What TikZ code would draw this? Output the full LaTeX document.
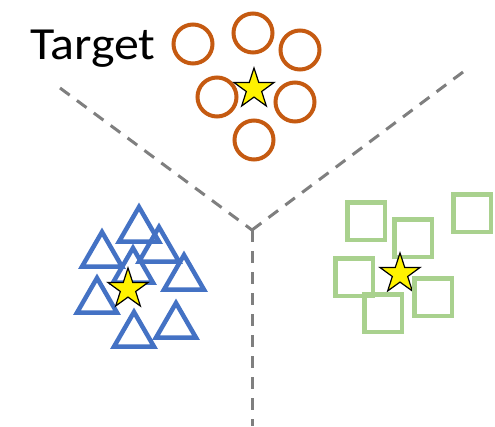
\documentclass[tikz,border=0pt]{standalone}
\usepackage{fontspec}
\setmainfont{Carlito}
\newfontfamily\labelfont[FakeStretch=1.085]{Carlito}
\usepackage{tikz}
\usetikzlibrary{shapes.geometric}

\definecolor{ringorange}{HTML}{C55A11}
\definecolor{triblue}{HTML}{4472C4}
\definecolor{boxgreen}{HTML}{A9D18E}
\definecolor{splitgray}{HTML}{7F7F7F}

\begin{document}
\begin{tikzpicture}[x=1pt, y=-1pt,
    ring/.style={line width=4pt, ringorange},
    tri/.style={line width=4.5pt, triblue},
    box/.style={line width=4.5pt, boxgreen},
    split/.style={line width=3pt, splitgray, dash pattern=on 12pt off 9pt},
    centroid/.style={star, star points=5, star point ratio=2.6, minimum size=42pt,
        inner sep=0pt, draw=black, line width=1.2pt, fill=yellow}]
    \useasboundingbox (0,0) rectangle (495,426);

    % decision boundaries
    \coordinate (mid) at (252,230);
    \coordinate (ul) at (60,88);
    \coordinate (ur) at (463,72);
    \coordinate (dn) at (252,426);
    \draw[split] (ul) -- (mid);
    \draw[split] (ur) -- (mid);
    \draw[split] (mid) -- (dn);

    % Target label
    \node[anchor=base west, inner sep=0pt, font=\labelfont\fontsize{46}{54}\selectfont] (target) at (30,59.5) {Target};

    % orange class (circles)
    \draw[ring] (193,44) circle (19.5pt);
    \draw[ring] (253,33) circle (19.5pt);
    \draw[ring] (300,50) circle (19.5pt);
    \draw[ring] (217,97) circle (19.5pt);
    \draw[ring] (295,102) circle (19.5pt);
    \draw[ring] (254,140) circle (19.5pt);
    \node[centroid] (starorange) at (254,89) {};

    % blue class (triangles)
    \draw[tri] (139,230) +(90:23pt) -- +(210:23pt) -- +(330:23pt) -- cycle;
    \draw[tri] (159,250) +(90:23pt) -- +(210:23pt) -- +(330:23pt) -- cycle;
    \draw[tri] (102,255) +(90:23pt) -- +(210:23pt) -- +(330:23pt) -- cycle;
    \draw[tri] (133,271) +(90:23pt) -- +(210:23pt) -- +(330:23pt) -- cycle;
    \draw[tri] (184,278) +(90:23pt) -- +(210:23pt) -- +(330:23pt) -- cycle;
    \draw[tri] (97,301) +(90:23pt) -- +(210:23pt) -- +(330:23pt) -- cycle;
    \draw[tri] (176,326) +(90:23pt) -- +(210:23pt) -- +(330:23pt) -- cycle;
    \draw[tri] (134,335) +(90:23pt) -- +(210:23pt) -- +(330:23pt) -- cycle;
    \node[centroid] (starblue) at (128,289) {};

    % green class (squares)
    \draw[box] (366,221) +(-18.75pt,-18.75pt) rectangle +(18.75pt,18.75pt);
    \draw[box] (413,238) +(-18.75pt,-18.75pt) rectangle +(18.75pt,18.75pt);
    \draw[box] (472,213) +(-18.75pt,-18.75pt) rectangle +(18.75pt,18.75pt);
    \draw[box] (354,277) +(-18.75pt,-18.75pt) rectangle +(18.75pt,18.75pt);
    \node[centroid] (stargreen) at (400,274) {};
    \draw[box] (433,297) +(-18.75pt,-18.75pt) rectangle +(18.75pt,18.75pt);
    \draw[box] (383,313) +(-18.75pt,-18.75pt) rectangle +(18.75pt,18.75pt);
\end{tikzpicture}
\end{document}
